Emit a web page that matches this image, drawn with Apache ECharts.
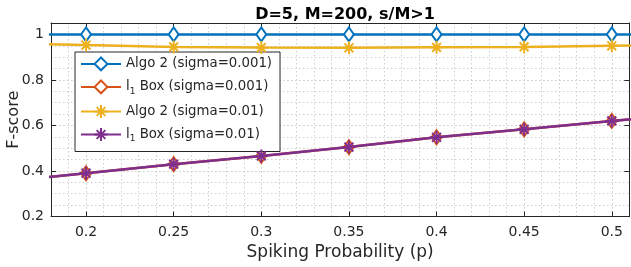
<!DOCTYPE html>
<html><head><meta charset="utf-8">
<script src="https://cdn.jsdelivr.net/npm/echarts@6/dist/echarts.min.js"></script>
<style>html,body{margin:0;padding:0;background:#fff}#c{width:631px;height:267px}</style>
</head><body><div id="c"></div>
<script>
// ---- data ----
const pValues       = [0.15, 0.2, 0.25, 0.3, 0.35, 0.4, 0.45, 0.5, 0.55];
const algo2Sig001   = [1, 1, 1, 1, 1, 1, 1, 1, 1];
const l1BoxSig001   = [0.35, 0.39, 0.43, 0.466, 0.505, 0.548, 0.583, 0.62, 0.655];
const algo2Sig01    = [0.961, 0.953, 0.945, 0.942, 0.941, 0.943, 0.945, 0.95, 0.955];
const l1BoxSig01    = [0.35, 0.39, 0.43, 0.466, 0.505, 0.548, 0.583, 0.62, 0.655];
const seriesNames   = ['Algo 2 (sigma=0.001)', 'l1 Box (sigma=0.001)', 'Algo 2 (sigma=0.01)', 'l1 Box (sigma=0.01)'];
const xTickLabels   = ['0.2', '0.25', '0.3', '0.35', '0.4', '0.45', '0.5'];
const yTickLabels   = ['0.2', '0.4', '0.6', '0.8', '1'];
const titleText     = 'D=5, M=200, s/M>1';
const xAxisTitle    = 'Spiking Probability (p)';
const yAxisTitle    = 'F-score';

// ---- styling ----
const FONT = 'DejaVu Sans';
const TXT = '#262626';
const ASTERISK = 'path://M5,0L5,10M0,5L10,5M1.6,1.6L8.4,8.4M1.6,8.4L8.4,1.6';
const gridLine = {show: true, lineStyle: {type: [1.5, 2.5], color: '#cfcfcf', width: 1}};

function mk(name, vals, color, symbol, size, z) {
  return {
    type: 'line', name: name, z: z,
    data: pValues.map((p, i) => [p, vals[i]]),
    xAxisIndex: 0, yAxisIndex: 0,
    symbol: symbol, symbolSize: size, showAllSymbol: true, clip: true,
    lineStyle: {color: color, width: 2.5},
    itemStyle: {color: color, borderColor: color, borderWidth: 2},
    emphasis: {disabled: true}
  };
}

const chart = echarts.init(document.getElementById('c'));
chart.setOption({
  animation: false,
  backgroundColor: '#fff',
  title: {
    text: titleText, left: 340, textAlign: 'center', top: 2,
    textStyle: {fontFamily: FONT, fontWeight: 'bold', fontSize: 16, color: '#000'}
  },
  grid: {left: 51, right: 1.7, top: 23, bottom: 50.5, containLabel: false, outerBoundsMode: 'none'},
  xAxis: [
    {
      type: 'value', min: 0.18, max: 0.51, position: 'bottom',
      axisLine: {show: true, onZero: false, lineStyle: {color: TXT}},
      axisTick: {show: true, inside: true, length: 5, lineStyle: {color: TXT}},
      axisLabel: {
        showMinLabel: false, showMaxLabel: false, fontFamily: FONT, fontSize: 14, color: TXT, margin: 9,
        formatter: v => { const s = String(+v.toFixed(2)); return xTickLabels.includes(s) ? s : ''; }
      },
      splitLine: gridLine,
      name: xAxisTitle, nameLocation: 'middle', nameGap: 28, nameMoveOverlap: false,
      nameTextStyle: {fontFamily: FONT, fontSize: 17, color: TXT}
    },
    {
      type: 'value', min: 0.18, max: 0.51, position: 'top',
      axisLine: {show: true, onZero: false, lineStyle: {color: TXT}},
      axisTick: {show: true, inside: true, length: 5, lineStyle: {color: TXT}},
      axisLabel: {show: false}, splitLine: {show: false}
    },
    {
      type: 'value', min: 0.18, max: 0.51, interval: 0.01, position: 'top',
      axisLine: {show: false}, axisTick: {show: false}, axisLabel: {show: false},
      splitLine: gridLine
    }
  ],
  yAxis: [
    {
      type: 'value', min: 0.2, max: 1.05, interval: 0.2, position: 'left',
      axisLine: {show: true, onZero: false, lineStyle: {color: TXT}},
      axisTick: {show: true, inside: true, length: 5, lineStyle: {color: TXT}},
      axisLabel: {
        showMaxLabel: false, fontFamily: FONT, fontSize: 14, color: TXT, margin: 7,
        formatter: v => { const s = String(+v.toFixed(2)); return yTickLabels.includes(s) ? s : ''; }
      },
      splitLine: gridLine,
      name: yAxisTitle, nameLocation: 'middle', nameGap: 29, nameMoveOverlap: false,
      nameTextStyle: {fontFamily: FONT, fontSize: 16, color: TXT}
    },
    {
      type: 'value', min: 0.2, max: 1.05, interval: 0.2, position: 'right',
      axisLine: {show: true, onZero: false, lineStyle: {color: TXT}},
      axisTick: {show: true, inside: true, length: 5, lineStyle: {color: TXT}},
      axisLabel: {show: false}, splitLine: {show: false}
    },
    {
      type: 'value', min: 0.2, max: 1.05, interval: 0.05, position: 'right',
      axisLine: {show: false}, axisTick: {show: false}, axisLabel: {show: false},
      splitLine: gridLine
    }
  ],
  legend: {
    orient: 'vertical', left: 75, top: 52,
    itemWidth: 40, itemHeight: 16, itemGap: 8.2,
    padding: [4.5, 8, 8, 5],
    backgroundColor: '#fff', borderColor: TXT, borderWidth: 1, borderRadius: 0,
    selectedMode: false,
    data: seriesNames,
    textStyle: {
      fontFamily: FONT, fontSize: 13.3, color: TXT,
      rich: {
        a: {fontFamily: FONT, fontSize: 13.3, color: TXT, lineHeight: 18},
        s: {fontFamily: FONT, fontSize: 9, color: TXT, lineHeight: 8, verticalAlign: 'bottom'}
      }
    },
    formatter: name => name.startsWith('l1 ')
      ? '{a|l}{s|1}{a|' + name.slice(2) + '}'
      : '{a|' + name + '}'
  },
  series: [
    mk(seriesNames[0], algo2Sig001, '#0072BD', 'emptyDiamond', [10, 14], 2),
    mk(seriesNames[1], l1BoxSig001, '#D95319', 'emptyDiamond', [10, 14], 3),
    mk(seriesNames[2], algo2Sig01, '#EDB120', ASTERISK, 13, 4),
    mk(seriesNames[3], l1BoxSig01, '#7E2F8E', ASTERISK, 13, 5)
  ]
});
</script></body></html>
